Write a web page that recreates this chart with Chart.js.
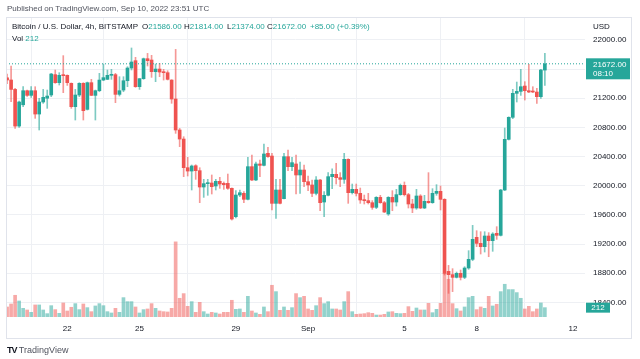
<!DOCTYPE html>
<html><head><meta charset="utf-8">
<script src="https://cdn.jsdelivr.net/npm/chart.js@4.4.0/dist/chart.umd.min.js"></script>
<style>
html,body{margin:0;padding:0;background:#fff;}
body{width:640px;height:359px;position:relative;overflow:hidden;font-family:"Liberation Sans",Arial,sans-serif;}
#c{position:absolute;left:0;top:0;}
.t{position:absolute;white-space:nowrap;line-height:1;}
.g{color:#26a69a;}
</style></head><body>
<canvas id="c" width="640" height="359"></canvas>
<div style="position:absolute;left:6px;top:17px;width:624px;height:320px;border:1px solid #e0e3eb;pointer-events:none"></div>
<div class="t" style="left:7px;top:5px;font-size:8px;color:#50535e">Published on TradingView.com, Sep 10, 2022 23:51 UTC</div>
<div class="t" style="left:12px;top:23px;font-size:8px;color:#131722">Bitcoin / U.S. Dollar, 4h, BITSTAMP</div>
<div class="t" style="left:142px;top:23px;font-size:8px;color:#131722">O<span class="g">21586.00</span></div>
<div class="t" style="left:184px;top:23px;font-size:8px;color:#131722">H<span class="g">21814.00</span></div>
<div class="t" style="left:227px;top:23px;font-size:8px;color:#131722">L<span class="g">21374.00</span></div>
<div class="t" style="left:267px;top:23px;font-size:8px;color:#131722">C<span class="g">21672.00</span></div>
<div class="t g" style="left:310px;top:23px;font-size:8px;">+85.00 (+0.39%)</div>
<div class="t" style="left:12px;top:35px;font-size:8px;color:#131722">Vol <span class="g">212</span></div>
<div class="t" style="left:593px;top:23px;font-size:8px;color:#131722">USD</div>
<div class="t" style="left:7px;top:346px;font-size:9px;color:#131722"><b style="font-size:9px;letter-spacing:-1px">TV</b> <span style="color:#50535e">TradingView</span></div>
<script>
// 4h candles, first = Aug 19 12:00 UTC, last = Sep 10 20:00 UTC
const open = [
21480,21450,21321,20818,21110,21303,21239,21303,20983,21148,
21200,21244,21523,21413,21523,21514,21404,21084,21244,21404,
21047,21413,21239,21303,21449,21459,21514,21523,21253,21312,
21440,21614,21715,21358,21468,21742,21724,21564,21600,21559,
21550,21449,21189,20764,20640,20247,20201,20274,20206,19982,
20028,20037,19996,20060,20032,20032,19964,19575,19872,19895,
19813,20261,20078,20298,20279,20444,20407,19758,19941,19822,
20398,20261,20298,20147,20215,20055,20010,19895,20078,19776,
19868,20124,20156,20110,20087,20362,19904,19950,19895,19804,
19795,19767,19703,19840,19767,19612,19840,19776,19877,20005,
19877,19749,19694,19859,19694,19786,19767,19895,19923,19813,
18825,18780,18743,18798,18743,18871,18990,19292,19209,19164,
19310,19246,19347,19319,19941,20636,20938,21267,21294,21367,
21303,21299,21285,21221,21586];
const high = [
21530,21641,21335,21160,21358,21312,21358,21358,21198,21321,
21312,21541,21587,21550,21784,21520,21410,21321,21413,21413,
21422,21459,21312,21541,21669,21587,21596,21541,21495,21495,
21632,21889,21761,21470,21751,21815,21788,21669,21678,21596,
21577,21455,21870,20786,20672,20389,20284,20288,20247,20087,
20087,20147,20087,20115,20051,20160,19970,19932,19941,19918,
20389,20421,20325,20352,20572,20526,20444,20087,20087,20444,
20489,20389,20421,20325,20284,20133,20078,20124,20087,19918,
20179,20233,20307,20179,20444,20370,20023,20023,19968,19872,
19895,19795,19850,19868,19786,19850,19932,19950,20023,20051,
19895,19813,19950,19877,19868,20179,19959,20014,19996,19822,
18907,18862,18816,18844,18889,19109,19456,19383,19369,19369,
19356,19356,19438,19950,20791,20945,21322,21422,21596,21427,
21665,21358,21335,21596,21814];
const low = [
21400,21152,20786,20800,21084,21225,21212,20924,20764,21129,
21061,21221,21404,21381,21276,21376,21061,20901,21221,20901,
21038,21235,20901,21289,21440,21455,21459,21139,21230,21289,
21358,21587,21349,21321,21459,21642,21486,21427,21495,21449,
21450,21130,20718,20535,20124,20133,19941,20087,19767,19840,
19868,19886,19941,19964,19950,19950,19529,19557,19850,19767,
19804,20069,20070,20124,20270,20389,19667,19552,19749,19820,
20206,20206,19886,19895,19986,19932,19850,19872,19657,19575,
19859,19959,20023,19987,20032,19758,19886,19859,19758,19749,
19749,19676,19685,19758,19630,19593,19657,19721,19868,19859,
19694,19630,19676,19685,19685,19758,19758,19868,19667,18775,
18524,18547,18734,18707,18725,18853,18971,19164,19063,19090,
19026,19100,19264,19310,19932,20627,20919,21148,21239,21175,
21276,21276,21130,21198,21374];
const close = [
21450,21321,20818,21148,21303,21239,21303,20983,21148,21212,
21230,21532,21413,21514,21509,21413,21084,21244,21404,21029,
21413,21239,21303,21449,21482,21514,21523,21253,21303,21440,
21614,21697,21358,21468,21742,21715,21564,21600,21559,21550,
21459,21189,20764,20640,20247,20201,20270,20206,19982,20028,
20037,19987,20060,20023,20014,19964,19543,19872,19904,19813,
20261,20078,20298,20279,20435,20398,19758,19941,19758,20398,
20261,20316,20147,20215,20055,20010,19895,20078,19767,19868,
20124,20156,20110,20087,20362,19904,19950,19895,19804,19795,
19767,19703,19840,19767,19639,19840,19776,19877,20005,19877,
19749,19694,19859,19694,19786,19767,19895,19923,19813,18798,
18780,18743,18798,18743,18871,18990,19264,19209,19164,19310,
19246,19337,19319,19941,20636,20938,21267,21294,21358,21303,
21285,21285,21221,21587,21672];
const volume = [
227,295,492,363,197,159,106,273,273,159,
76,257,167,83,318,136,220,303,167,295,
212,121,250,303,257,121,91,197,106,439,
348,348,227,91,167,182,303,197,136,121,
114,197,1703,424,530,242,348,106,333,121,
68,106,91,68,106,106,379,174,182,106,
469,136,91,61,227,121,719,575,151,227,
151,212,530,439,469,182,151,257,439,303,
348,182,182,159,348,575,121,61,68,76,
98,83,45,45,61,114,121,83,76,83,
235,129,204,159,159,310,98,174,310,992,
855,303,189,136,227,439,469,167,227,197,
469,250,288,575,742,621,621,553,424,182,
242,121,182,318,212];
// day ticks: candle index of 00:00 of each labelled day
const dayTickIdx = [15, 33, 57, 75, 99, 117, 141];
const dayTickLabels = ['22', '25', '29', 'Sep', '5', '8', '12'];
const priceTicks = [18400, 18800, 19200, 19600, 20000, 20400, 20800, 21200, 21600, 22000];
const countdown = '08:10';

const GREEN = '#26a69a', RED = '#ef5350';
const last = close.length - 1;
const lastClose = close[last];
const isUp = close.map((c, i) => c >= open[i]);
const X_MIN = -0.27, X_MAX = 144;

Chart.defaults.font.family = '"Liberation Sans", Arial, sans-serif';
Chart.defaults.font.size = 8;
Chart.defaults.color = '#131722';

const overlay = {
  id: 'overlay',
  afterDraw(chart) {
    const {ctx, scales: {y, yv}} = chart;
    const py = y.getPixelForValue(lastClose);
    ctx.save();
    ctx.fillStyle = GREEN;
    ctx.fillRect(586, py - 5.5, 44, 21);
    ctx.fillStyle = '#fff';
    ctx.font = '8px "Liberation Sans", Arial, sans-serif';
    ctx.textBaseline = 'middle';
    ctx.textAlign = 'left';
    ctx.fillText(lastClose.toFixed(2), 593, py + 0.5);
    ctx.fillText(countdown, 593, py + 9.5);
    const vy = yv.getPixelForValue(volume[last]);
    ctx.fillStyle = GREEN;
    ctx.fillRect(586, vy - 5, 24, 10);
    ctx.fillStyle = '#fff';
    ctx.textAlign = 'center';
    ctx.fillText(String(volume[last]), 598, vy + 0.5);
    ctx.restore();
  }
};

const idx = open.map((_, i) => i);
new Chart(document.getElementById('c'), {
  type: 'bar',
  data: {
    datasets: [
      {
        type: 'line', order: 0,
        data: [{x: X_MIN, y: lastClose}, {x: X_MAX, y: lastClose}],
        borderColor: GREEN, borderWidth: 1, borderDash: [1, 2], pointRadius: 0, yAxisID: 'y'
      },
      {
        order: 1, grouped: false, barThickness: 3, minBarLength: 1, yAxisID: 'y',
        data: idx.map(i => ({x: i, y: [open[i], close[i]]})),
        backgroundColor: idx.map(i => isUp[i] ? GREEN : RED)
      },
      {
        order: 2, grouped: false, barThickness: 1, yAxisID: 'y',
        data: idx.map(i => ({x: i, y: [low[i], high[i]]})),
        backgroundColor: idx.map(i => isUp[i] ? 'rgba(38,166,154,0.6)' : 'rgba(239,83,80,0.6)')
      },
      {
        order: 3, grouped: false, barThickness: 3, yAxisID: 'yv',
        data: idx.map(i => ({x: i, y: volume[i]})),
        backgroundColor: idx.map(i => isUp[i] ? 'rgba(38,166,154,0.5)' : 'rgba(239,83,80,0.5)')
      }
    ]
  },
  options: {
    responsive: false,
    animation: false,
    devicePixelRatio: 1,
    layout: {padding: {left: 6, top: 17, right: 9, bottom: 21}},
    plugins: {legend: {display: false}, tooltip: {enabled: false}},
    scales: {
      x: {
        type: 'linear', min: X_MIN, max: X_MAX, offset: false,
        grid: {color: '#eef0f4', drawTicks: false},
        border: {display: false},
        ticks: {
          padding: 7, maxRotation: 0, autoSkip: false, color: '#131722',
          callback: v => { const k = dayTickIdx.indexOf(v); return k >= 0 ? dayTickLabels[k] : ''; }
        },
        afterBuildTicks: ax => { ax.ticks = dayTickIdx.map(v => ({value: v})); },
        afterFit: ax => { ax.height = 21; }
      },
      y: {
        type: 'linear', position: 'right', min: 18199, max: 22314,
        grid: {color: '#eef0f4', drawTicks: false},
        border: {display: false},
        ticks: {crossAlign: 'near', padding: 8, color: '#131722', callback: v => v.toFixed(2)},
        afterBuildTicks: ax => { ax.ticks = priceTicks.map(v => ({value: v})); },
        afterFit: ax => { ax.width = 46; }
      },
      yv: {display: false, min: 0, max: 6800}
    }
  },
  plugins: [overlay]
});
</script>
</body></html>
